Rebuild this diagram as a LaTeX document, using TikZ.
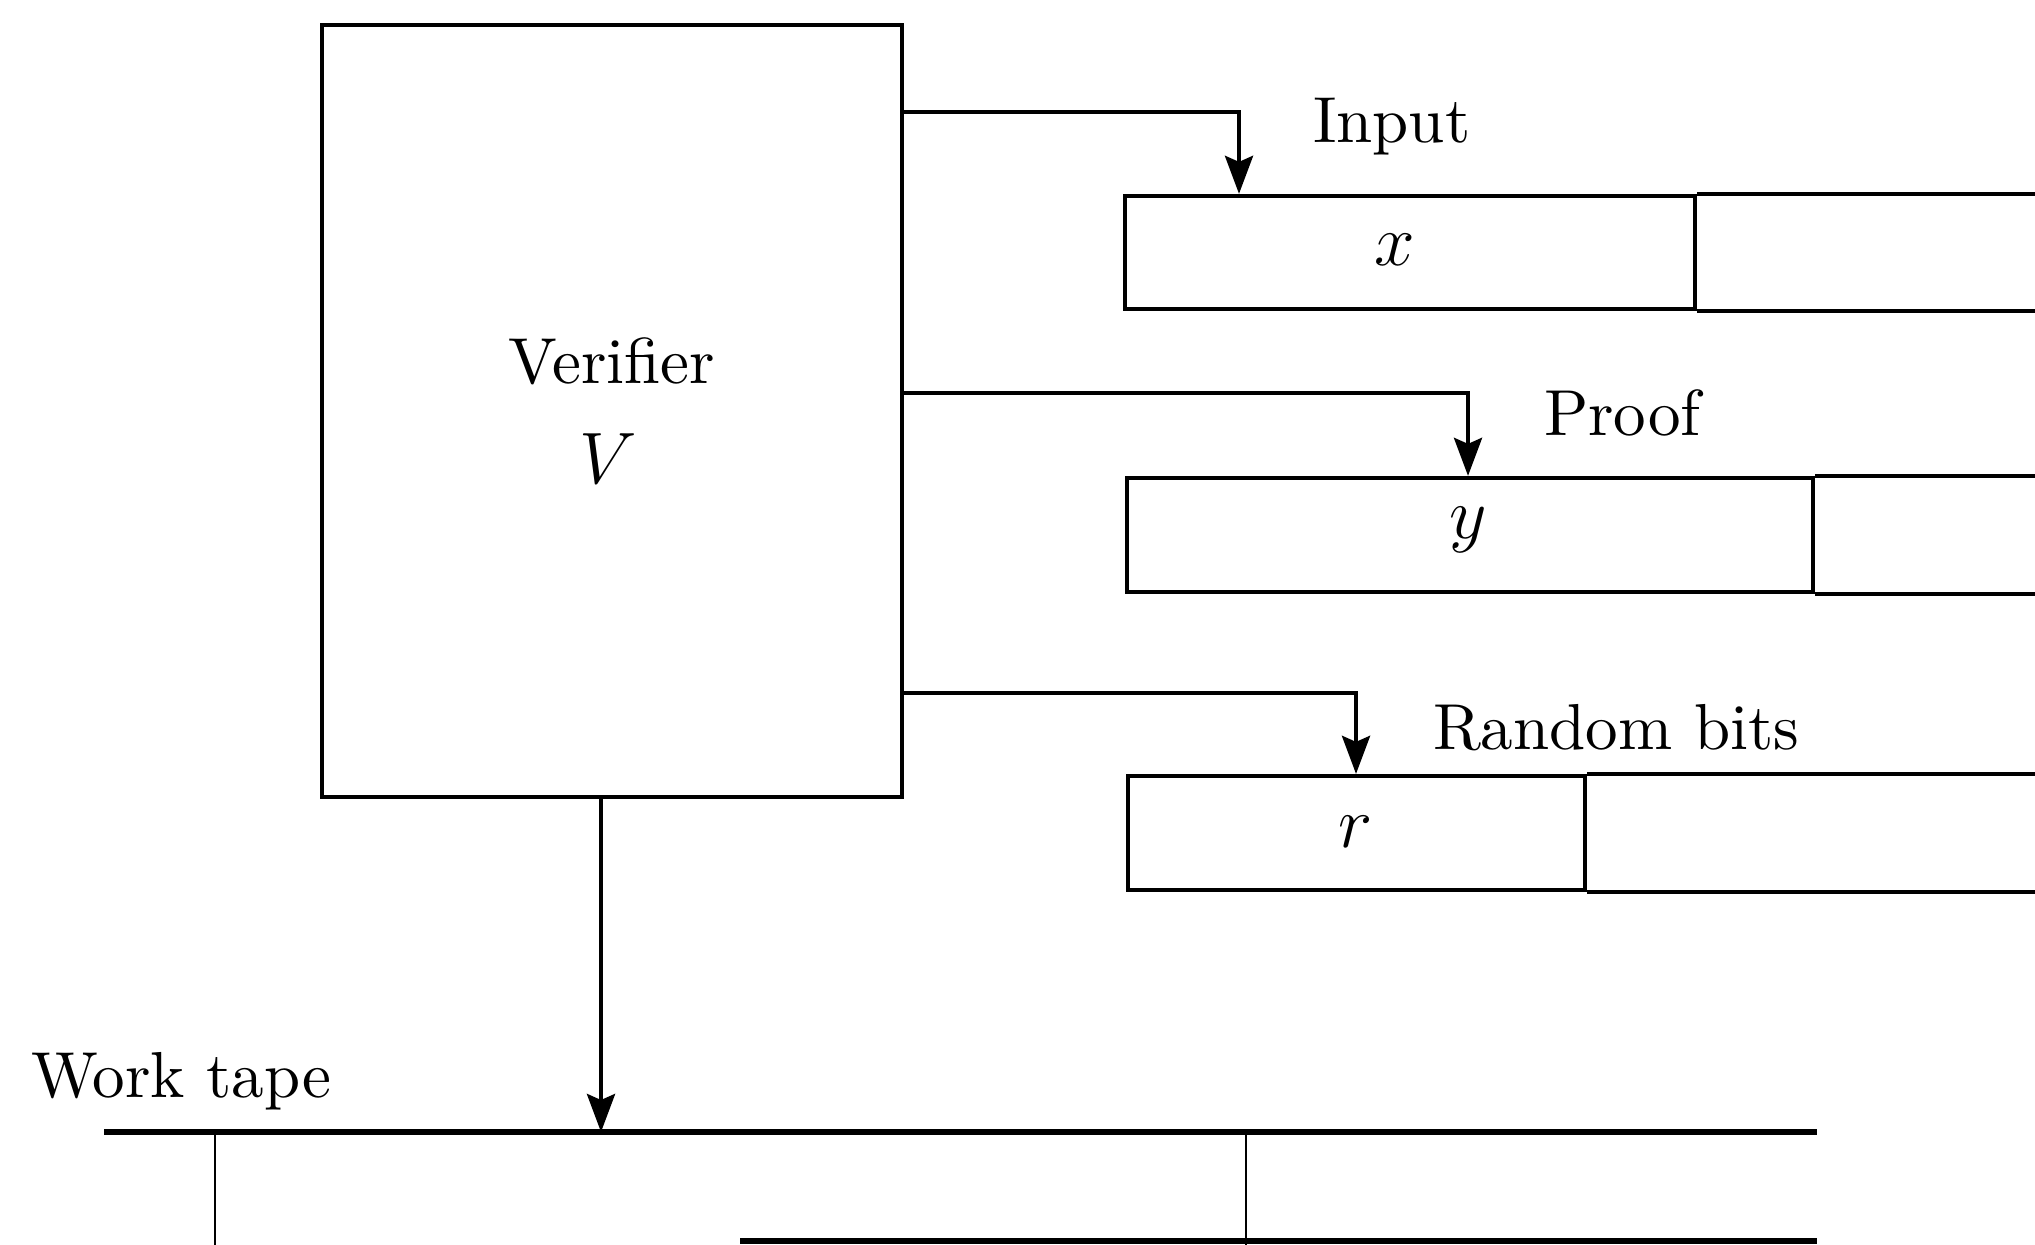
\documentclass[tikz,border=0pt]{standalone}
\usepackage{fontspec}
\setmainfont{lmroman10-regular.otf}[ItalicFont=lmroman10-italic.otf]
\usetikzlibrary{arrows.meta}
\begin{document}
\begin{tikzpicture}[
  line width=1.2pt,
  lbl/.style={font=\fontsize{18.5}{22}\selectfont, inner sep=0pt},
  arr/.style={-{Stealth[length=3.8mm,width=2.8mm,inset=0.6mm]}, line width=1.2pt},
  cell/.style={draw, rectangle, inner sep=0pt},
  mth/.style={font=\fontsize{20.74}{24}\selectfont, inner sep=0pt},
  thinline/.style={line width=0.8pt}
]
\useasboundingbox (0,0) rectangle (20.35,-12.45);

% Verifier box
\node[draw, rectangle, minimum width=5.80cm, minimum height=7.72cm, inner sep=0pt] (ver) at (6.12,-4.11) {};
\node[lbl, anchor=base] (vt) at (6.12,-3.84) {Verifier};
\node[mth, anchor=base] (vv) at (6.08,-4.84) {$V$};

% Input tape
\node[cell, minimum width=5.70cm, minimum height=1.13cm] (incell) at (14.10,-2.525) {};
\node[mth] (xl) at (13.95,-2.50) {$x$};
\coordinate (inend) at (20.35,-1.96);
\draw (incell.north east) -- (incell.north east -| inend);
\draw (incell.south east) -- (incell.south east -| inend);
\node[lbl, anchor=base west] (inlbl) at (13.11,-1.43) {Input};

% Proof tape
\node[cell, minimum width=6.86cm, minimum height=1.14cm] (prcell) at (14.70,-5.35) {};
\node[mth] (yl) at (14.68,-5.30) {$y$};
\draw (prcell.north east) -- (prcell.north east -| inend);
\draw (prcell.south east) -- (prcell.south east -| inend);
\node[lbl, anchor=base west] (prlbl) at (15.42,-4.36) {Proof};

% Random tape
\node[cell, minimum width=4.57cm, minimum height=1.14cm] (rdcell) at (13.565,-8.33) {};
\node[mth] (rl) at (13.56,-8.32) {$r$};
\draw (rdcell.north east) -- (rdcell.north east -| inend);
\draw (rdcell.south east) -- (rdcell.south east -| inend);
\node[lbl, anchor=base west] (rdlbl) at (14.31,-7.49) {Random bits};

% Arrows from verifier to tapes
\coordinate (a1) at (12.39,-1.12);
\coordinate (a2) at (14.68,-3.93);
\coordinate (a3) at (13.56,-6.93);
\draw[arr] (ver.east |- a1) -| (incell.north -| a1);
\draw[arr] (ver.east |- a2) -| (prcell.north -| a2);
\draw[arr] (ver.east |- a3) -| (rdcell.north -| a3);

% Work tape
\coordinate (wl) at (1.04,-11.32);
\coordinate (wr) at (18.17,-11.32);
\coordinate (wv1) at (2.15,-11.32);
\coordinate (wv2) at (12.46,-11.32);
\coordinate (wbl) at (7.40,-12.41);
\coordinate (wbr) at (18.17,-12.41);
\draw[line width=1.5pt] (wl) -- (wr);
\draw[thinline] (wv1) -- (wv1 |- 0,-12.45);
\draw[thinline] (wv2) -- (wv2 |- 0,-12.45);
\draw[line width=1.5pt] (wbl) -- (wbr);
\node[lbl, anchor=base west] (wklbl) at (0.29,-10.97) {Work tape};

\coordinate (wa) at (6.01,-11.32);
\draw[arr] (ver.south -| wa) -- (wa);
\end{tikzpicture}
\end{document}
